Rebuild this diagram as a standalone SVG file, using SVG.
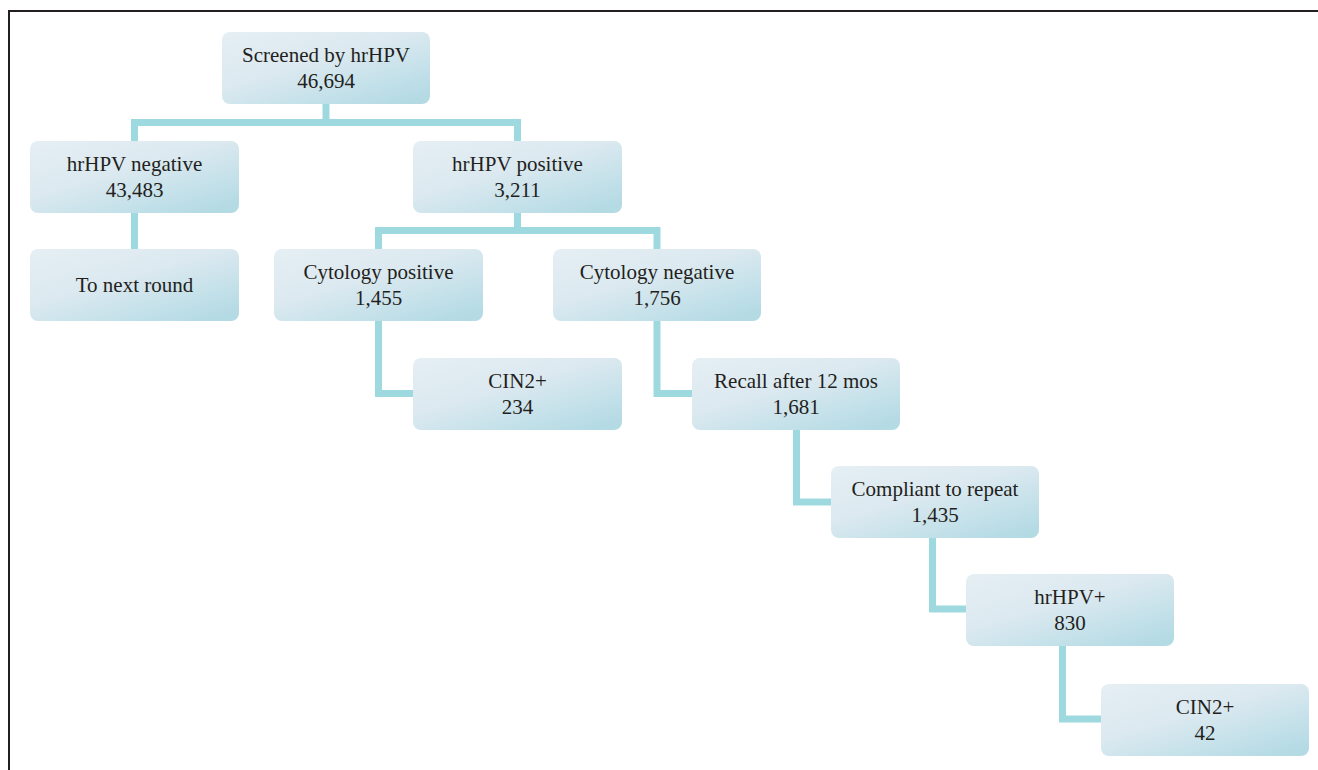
<svg xmlns="http://www.w3.org/2000/svg" width="1318" height="770" viewBox="0 0 1318 770">
<defs>
<linearGradient id="bg" x1="0" y1="0" x2="0.85" y2="1">
<stop offset="0" stop-color="#e5eff4"/>
<stop offset="0.45" stop-color="#dce9f0"/>
<stop offset="0.8" stop-color="#c2e0e9"/>
<stop offset="1" stop-color="#b4dae4"/>
</linearGradient>
<style>
.box{fill:url(#bg);}
.t{font-family:"Liberation Serif","Times New Roman",serif;font-size:21px;fill:#231f20;text-anchor:middle;}
.c{fill:none;stroke:#9fd9e0;stroke-width:7;stroke-linejoin:miter;stroke-linecap:butt;}
</style>
</defs>
<rect width="1318" height="770" fill="#fff"/>
<path d="M9,770 V11 H1318" fill="none" stroke="#231f20" stroke-width="2"/>
<g id="connectors">
<path class="c" d="M326,104 V122.5"/>
<path class="c" d="M134.5,141 V122.5 H517.5 V141"/>
<path class="c" d="M134.5,212 V249"/>
<path class="c" d="M517.5,212 V230.5"/>
<path class="c" d="M378.5,249 V230.5 H657 V249"/>
<path class="c" d="M378.5,321 V393.5 H413"/>
<path class="c" d="M657,321 V393.5 H692"/>
<path class="c" d="M796.5,430 V502 H831"/>
<path class="c" d="M932.5,538 V609 H966"/>
<path class="c" d="M1062.5,646 V719 H1101"/>
</g>
<g id="n1"><rect class="box" x="222" y="32" width="208" height="72" rx="8"/><text class="t" x="326" y="62">Screened by hrHPV</text><text class="t" x="326" y="88">46,694</text></g>
<g id="n2"><rect class="box" x="30" y="141" width="209" height="72" rx="8"/><text class="t" x="134.5" y="171">hrHPV negative</text><text class="t" x="134.5" y="197">43,483</text></g>
<g id="n3"><rect class="box" x="413" y="141" width="209" height="72" rx="8"/><text class="t" x="517.5" y="171">hrHPV positive</text><text class="t" x="517.5" y="197">3,211</text></g>
<g id="n4"><rect class="box" x="30" y="249" width="209" height="72" rx="8"/><text class="t" x="134.5" y="292">To next round</text></g>
<g id="n5"><rect class="box" x="274" y="249" width="209" height="72" rx="8"/><text class="t" x="378.5" y="279">Cytology positive</text><text class="t" x="378.5" y="305">1,455</text></g>
<g id="n6"><rect class="box" x="553" y="249" width="208" height="72" rx="8"/><text class="t" x="657" y="279">Cytology negative</text><text class="t" x="657" y="305">1,756</text></g>
<g id="n7"><rect class="box" x="413" y="358" width="209" height="72" rx="8"/><text class="t" x="517.5" y="388">CIN2+</text><text class="t" x="517.5" y="414">234</text></g>
<g id="n8"><rect class="box" x="692" y="358" width="208" height="72" rx="8"/><text class="t" x="796" y="388">Recall after 12 mos</text><text class="t" x="796" y="414">1,681</text></g>
<g id="n9"><rect class="box" x="831" y="466" width="208" height="72" rx="8"/><text class="t" x="935" y="496">Compliant to repeat</text><text class="t" x="935" y="522">1,435</text></g>
<g id="n10"><rect class="box" x="966" y="574" width="208" height="72" rx="8"/><text class="t" x="1070" y="604">hrHPV+</text><text class="t" x="1070" y="630">830</text></g>
<g id="n11"><rect class="box" x="1101" y="684" width="208" height="72" rx="8"/><text class="t" x="1205" y="714">CIN2+</text><text class="t" x="1205" y="740">42</text></g>
</svg>
